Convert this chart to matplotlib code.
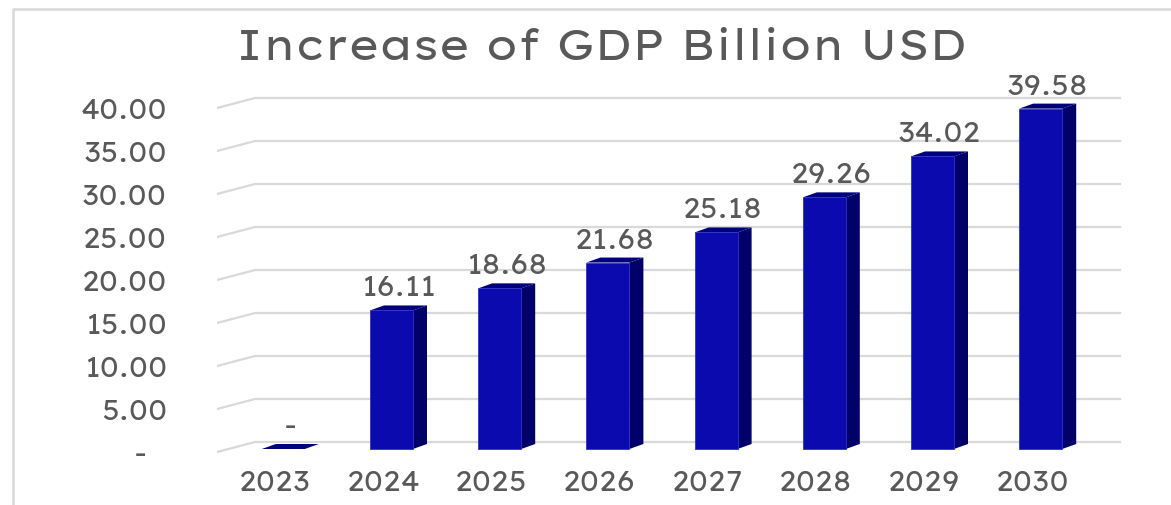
import matplotlib
matplotlib.use("Agg")
import matplotlib.pyplot as plt
from matplotlib.patches import Polygon, Rectangle
from matplotlib.lines import Line2D

# wide, tracked-out sans to mimic the stretched Excel text
plt.rcParams['font.family'] = ['Lexend Exa', 'DejaVu Sans']

# data
years = ["2023", "2024", "2025", "2026", "2027", "2028", "2029", "2030"]
gdp_increase = [0.0, 16.11, 18.68, 21.68, 25.18, 29.26, 34.02, 39.58]
y_ticks = [0, 5, 10, 15, 20, 25, 30, 35, 40]
y_tick_labels = ["-  ", "5.00", "10.00", "15.00", "20.00", "25.00", "30.00", "35.00", "40.00"]
title = "Increase of GDP Billion USD"

# colours
front_col = "#0A0AAE"
side_col = "#000068"
top_col = "#00007C"
grid_col = "#D9D9D9"
text_col = "#595959"

W, H = 1171, 506
fig = plt.figure(figsize=(W / 100, H / 100), dpi=100)

# pixel geometry of the reference, turned into data units
px_per_cat = 108.2
px_per_val = 8.6
x0_px = 283.3      # front centre of first bar
base_px = 450      # value 0 at bar front
left_px, right_px, top_px, bot_px = 217, 1125, 95, 460

ax = fig.add_axes([left_px / W, 1 - bot_px / H,
                   (right_px - left_px) / W, (bot_px - top_px) / H])
ax.set_xlim((left_px - x0_px) / px_per_cat, (right_px - x0_px) / px_per_cat)
ax.set_ylim((base_px - bot_px) / px_per_val, (base_px - top_px) / px_per_val)
for s in ax.spines.values():
    s.set_visible(False)

# 3d-ish offsets
bar_w = 43 / px_per_cat
dx = 14 / px_per_cat
dy = 5 / px_per_val
floor_front = -3 / px_per_val
floor_back = 7 / px_per_val
wall_x0 = (left_px - x0_px) / px_per_cat
wall_x1 = (255 - x0_px) / px_per_cat
wall_x2 = (1120 - x0_px) / px_per_cat

# gridlines (slanted side wall + back wall)
for v in y_ticks:
    ax.plot([wall_x0, wall_x1, wall_x2],
            [v + floor_front, v + floor_back, v + floor_back],
            color=grid_col, lw=1.6, zorder=1, solid_joinstyle="miter")

# bars
for i, v in enumerate(gdp_increase):
    l, r = i - bar_w / 2, i + bar_w / 2
    ax.add_patch(Polygon([(r, 0), (r + dx, dy), (r + dx, v + dy), (r, v)],
                         closed=True, facecolor=side_col, edgecolor="none", zorder=3))
    ax.add_patch(Polygon([(l, v), (l + dx, v + dy), (r + dx, v + dy), (r, v)],
                         closed=True, facecolor=top_col, edgecolor="none", zorder=3))
    if v > 0:
        ax.add_patch(Rectangle((l, 0), bar_w, v, facecolor=front_col,
                               edgecolor="#3030C8", lw=0.6, zorder=4))
    lab = "-" if v == 0 else f"{v:.2f}"
    ax.text(i + dx / 2, v + dy + 10 / px_per_val, lab, ha="center", va="baseline",
            fontsize=20, color=text_col, zorder=5)

# axis labels
ax.set_yticks([v + floor_front for v in y_ticks])
ax.set_yticklabels(y_tick_labels)
ax.set_xticks([i - 0.075 for i in range(len(years))])
ax.set_xticklabels(years)
ax.tick_params(axis="y", length=0, pad=36, labelsize=20, labelcolor=text_col)
ax.tick_params(axis="x", length=0, pad=7, labelsize=20, labelcolor=text_col)

fig.text(602 / W, 1 - 48 / H, title, ha="center", va="center",
         fontsize=31, color=text_col)

# chart frame
fig.add_artist(Line2D([13 / W, 13 / W, 1], [0, 1 - 10 / H, 1 - 10 / H],
                      transform=fig.transFigure, color=grid_col, lw=1.8))

fig.savefig("out.png", dpi=100)
